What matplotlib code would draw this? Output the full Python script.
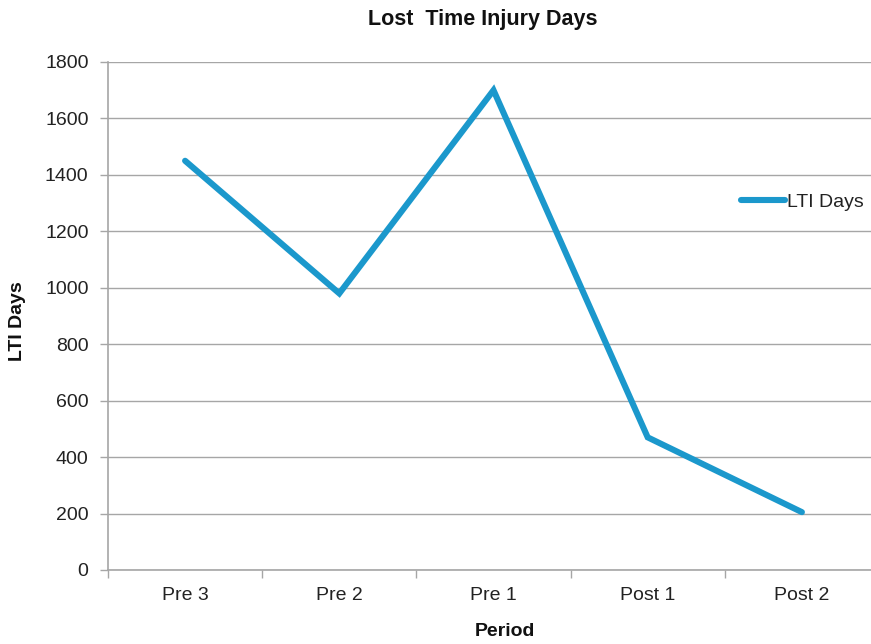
import matplotlib.pyplot as plt

plt.rcParams['font.family'] = ['Liberation Sans', 'DejaVu Sans']

# data
periods = ['Pre 3', 'Pre 2', 'Pre 1', 'Post 1', 'Post 2']
lti_days = [1450, 980, 1700, 470, 205]

W, H = 871, 644
fig = plt.figure(figsize=(W / 100, H / 100), dpi=100)
ax = fig.add_axes([108 / W, 1 - 570 / H, (879 - 108) / W, (570 - 62) / H])

xs = [i + 0.5 for i in range(len(periods))]
line_col = '#1B98CC'
grid_col = '#A6A6A6'
fs = 14

ax.plot(xs, lti_days, color=line_col, lw=4.4, solid_capstyle='round',
        solid_joinstyle='miter', label='LTI Days', zorder=3)

ax.set_xlim(0, len(periods))
ax.set_ylim(0, 1800)
ax.set_yticks(range(0, 1801, 200))
ax.set_xticks(range(len(periods) + 1))
ax.set_xticklabels([])
ax.set_xticks(xs, minor=True)
ax.set_xticklabels(periods, minor=True)

ax.tick_params(axis='x', which='major', length=6, width=1, color=grid_col, direction='out')
ax.tick_params(axis='x', which='minor', length=0, pad=12.5, labelsize=fs, labelcolor='#222222')
ax.tick_params(axis='y', length=6, width=1, color=grid_col, pad=8, labelsize=fs, labelcolor='#222222')

ax.grid(axis='y', color=grid_col, lw=1)
ax.set_axisbelow(True)
for s in ['top', 'right']:
    ax.spines[s].set_visible(False)
ax.spines['left'].set_color(grid_col)
ax.spines['bottom'].set_color(grid_col)
ax.spines['left'].set_linewidth(1.2)
ax.spines['bottom'].set_linewidth(1.2)

fig.text(483 / W, 1 - 20 / H, 'Lost  Time Injury Days', ha='center', va='center',
         fontsize=15.5, fontweight='bold', color='#111111')
fig.text(505 / W, 1 - 632 / H, 'Period', ha='center', va='center',
         fontsize=fs, fontweight='bold', color='#111111')
fig.text(18 / W, 1 - 321 / H, 'LTI Days', ha='center', va='center', rotation=90,
         fontsize=fs, fontweight='bold', color='#111111')

leg = ax.legend(loc='center left', bbox_to_anchor=(731 / W, 1 - 202 / H),
                bbox_transform=fig.transFigure, frameon=False, fontsize=fs,
                handlelength=2.3, handletextpad=0.1, borderpad=0)
for t in leg.get_texts():
    t.set_color('#222222')

fig.savefig('out.png', dpi=100)
